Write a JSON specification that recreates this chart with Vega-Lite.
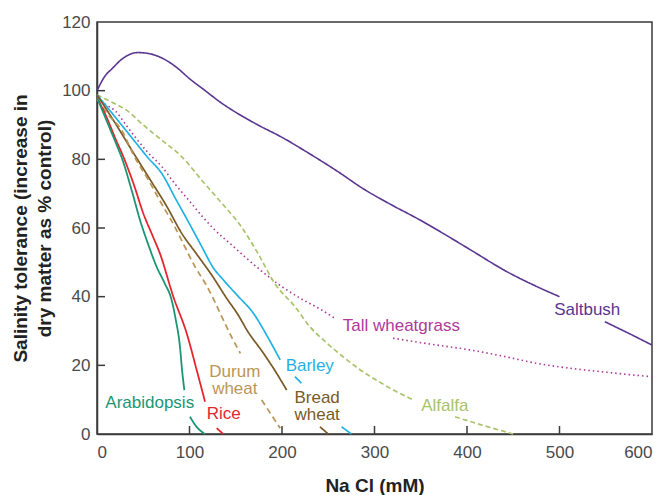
{
  "$schema": "https://vega.github.io/schema/vega-lite/v6.json",
  "width": 555,
  "height": 412,
  "autosize": {"type": "none"},
  "padding": {"left": 97, "top": 22, "right": 16, "bottom": 61},
  "background": "white",
  "config": {
    "view": {"stroke": "#3a3a3a", "strokeWidth": 1.5},
    "font": "Liberation Sans",
    "axis": {
      "grid": false,
      "ticks": false,
      "domainColor": "#3a3a3a",
      "domainWidth": 1.5,
      "labelFont": "Liberation Sans",
      "labelFontSize": 17,
      "labelColor": "#4a4a4a",
      "titleFont": "Liberation Sans",
      "titleFontSize": 19,
      "titleFontWeight": "bold",
      "titleColor": "#222222"
    }
  },
  "datasets": {
    "curves": [
      {"s":"Saltbush","g":"Saltbush-1","x":0,"y":100},
      {"s":"Saltbush","g":"Saltbush-1","x":8,"y":104},
      {"s":"Saltbush","g":"Saltbush-1","x":17,"y":106.6},
      {"s":"Saltbush","g":"Saltbush-1","x":28,"y":109.4},
      {"s":"Saltbush","g":"Saltbush-1","x":44,"y":111.1},
      {"s":"Saltbush","g":"Saltbush-1","x":58,"y":110.7},
      {"s":"Saltbush","g":"Saltbush-1","x":71,"y":109.4},
      {"s":"Saltbush","g":"Saltbush-1","x":85,"y":107},
      {"s":"Saltbush","g":"Saltbush-1","x":100,"y":103.5},
      {"s":"Saltbush","g":"Saltbush-1","x":117,"y":100},
      {"s":"Saltbush","g":"Saltbush-1","x":133,"y":96.7},
      {"s":"Saltbush","g":"Saltbush-1","x":150,"y":93.7},
      {"s":"Saltbush","g":"Saltbush-1","x":172,"y":90.3},
      {"s":"Saltbush","g":"Saltbush-1","x":200,"y":86.4},
      {"s":"Saltbush","g":"Saltbush-1","x":230,"y":81.6},
      {"s":"Saltbush","g":"Saltbush-1","x":260,"y":76.5},
      {"s":"Saltbush","g":"Saltbush-1","x":288,"y":71.4},
      {"s":"Saltbush","g":"Saltbush-1","x":320,"y":66.5},
      {"s":"Saltbush","g":"Saltbush-1","x":346,"y":62.8},
      {"s":"Saltbush","g":"Saltbush-1","x":375,"y":58.3},
      {"s":"Saltbush","g":"Saltbush-1","x":404,"y":53.6},
      {"s":"Saltbush","g":"Saltbush-1","x":443,"y":47.3},
      {"s":"Saltbush","g":"Saltbush-1","x":475,"y":43},
      {"s":"Saltbush","g":"Saltbush-1","x":500,"y":40},
      {"s":"Saltbush","g":"Saltbush-2","x":549,"y":32.7},
      {"s":"Saltbush","g":"Saltbush-2","x":575,"y":29.3},
      {"s":"Saltbush","g":"Saltbush-2","x":600,"y":25.9},

      {"s":"Tall wheatgrass","g":"Tall-1","x":0,"y":97.5},
      {"s":"Tall wheatgrass","g":"Tall-1","x":10,"y":95.8},
      {"s":"Tall wheatgrass","g":"Tall-1","x":19.5,"y":94.2},
      {"s":"Tall wheatgrass","g":"Tall-1","x":30,"y":90.5},
      {"s":"Tall wheatgrass","g":"Tall-1","x":41,"y":86.6},
      {"s":"Tall wheatgrass","g":"Tall-1","x":55,"y":82},
      {"s":"Tall wheatgrass","g":"Tall-1","x":70,"y":77.9},
      {"s":"Tall wheatgrass","g":"Tall-1","x":85,"y":72.6},
      {"s":"Tall wheatgrass","g":"Tall-1","x":102,"y":67.2},
      {"s":"Tall wheatgrass","g":"Tall-1","x":115,"y":63},
      {"s":"Tall wheatgrass","g":"Tall-1","x":127.5,"y":59.4},
      {"s":"Tall wheatgrass","g":"Tall-1","x":145,"y":55.2},
      {"s":"Tall wheatgrass","g":"Tall-1","x":160,"y":51.6},
      {"s":"Tall wheatgrass","g":"Tall-1","x":180,"y":47},
      {"s":"Tall wheatgrass","g":"Tall-1","x":200,"y":42.9},
      {"s":"Tall wheatgrass","g":"Tall-1","x":220,"y":39.5},
      {"s":"Tall wheatgrass","g":"Tall-1","x":243,"y":36.1},
      {"s":"Tall wheatgrass","g":"Tall-1","x":257,"y":33.7},
      {"s":"Tall wheatgrass","g":"Tall-2","x":320,"y":27.9},
      {"s":"Tall wheatgrass","g":"Tall-2","x":360,"y":26.2},
      {"s":"Tall wheatgrass","g":"Tall-2","x":403,"y":24.5},
      {"s":"Tall wheatgrass","g":"Tall-2","x":440,"y":22.6},
      {"s":"Tall wheatgrass","g":"Tall-2","x":475,"y":20.6},
      {"s":"Tall wheatgrass","g":"Tall-2","x":510,"y":19.2},
      {"s":"Tall wheatgrass","g":"Tall-2","x":547,"y":18.1},
      {"s":"Tall wheatgrass","g":"Tall-2","x":575,"y":17.3},
      {"s":"Tall wheatgrass","g":"Tall-2","x":600,"y":16.7},

      {"s":"Alfalfa","g":"Alfalfa-1","x":0,"y":98.8},
      {"s":"Alfalfa","g":"Alfalfa-1","x":15,"y":96.8},
      {"s":"Alfalfa","g":"Alfalfa-1","x":34,"y":93.9},
      {"s":"Alfalfa","g":"Alfalfa-1","x":50,"y":90},
      {"s":"Alfalfa","g":"Alfalfa-1","x":70,"y":85.6},
      {"s":"Alfalfa","g":"Alfalfa-1","x":91.5,"y":80.8},
      {"s":"Alfalfa","g":"Alfalfa-1","x":113,"y":74},
      {"s":"Alfalfa","g":"Alfalfa-1","x":135,"y":67.2},
      {"s":"Alfalfa","g":"Alfalfa-1","x":156,"y":60.4},
      {"s":"Alfalfa","g":"Alfalfa-1","x":174,"y":52.6},
      {"s":"Alfalfa","g":"Alfalfa-1","x":192,"y":43.9},
      {"s":"Alfalfa","g":"Alfalfa-1","x":214,"y":37.1},
      {"s":"Alfalfa","g":"Alfalfa-1","x":230,"y":31.3},
      {"s":"Alfalfa","g":"Alfalfa-1","x":248,"y":26.6},
      {"s":"Alfalfa","g":"Alfalfa-1","x":266,"y":22.5},
      {"s":"Alfalfa","g":"Alfalfa-1","x":284,"y":18.8},
      {"s":"Alfalfa","g":"Alfalfa-1","x":302,"y":15.7},
      {"s":"Alfalfa","g":"Alfalfa-1","x":322,"y":12.6},
      {"s":"Alfalfa","g":"Alfalfa-1","x":342,"y":9.9},
      {"s":"Alfalfa","g":"Alfalfa-2","x":387,"y":5},
      {"s":"Alfalfa","g":"Alfalfa-2","x":420,"y":2.3},
      {"s":"Alfalfa","g":"Alfalfa-2","x":450,"y":0},

      {"s":"Barley","g":"Barley-1","x":0,"y":98.8},
      {"s":"Barley","g":"Barley-1","x":20,"y":92.2},
      {"s":"Barley","g":"Barley-1","x":40,"y":85.5},
      {"s":"Barley","g":"Barley-1","x":55,"y":80.5},
      {"s":"Barley","g":"Barley-1","x":70,"y":75.9},
      {"s":"Barley","g":"Barley-1","x":85,"y":68.5},
      {"s":"Barley","g":"Barley-1","x":100,"y":61.2},
      {"s":"Barley","g":"Barley-1","x":113,"y":54.7},
      {"s":"Barley","g":"Barley-1","x":126,"y":48.3},
      {"s":"Barley","g":"Barley-1","x":136.5,"y":44.9},
      {"s":"Barley","g":"Barley-1","x":153,"y":40},
      {"s":"Barley","g":"Barley-1","x":169,"y":35.2},
      {"s":"Barley","g":"Barley-1","x":184,"y":28.5},
      {"s":"Barley","g":"Barley-1","x":198,"y":21.6},
      {"s":"Barley","g":"Barley-2","x":214,"y":16.7},
      {"s":"Barley","g":"Barley-2","x":221,"y":14.8},
      {"s":"Barley","g":"Barley-3","x":264.5,"y":2.1},
      {"s":"Barley","g":"Barley-3","x":275,"y":0},

      {"s":"Bread wheat","g":"Bread-1","x":0,"y":98.8},
      {"s":"Bread wheat","g":"Bread-1","x":20,"y":90.4},
      {"s":"Bread wheat","g":"Bread-1","x":40,"y":81.6},
      {"s":"Bread wheat","g":"Bread-1","x":60,"y":73},
      {"s":"Bread wheat","g":"Bread-1","x":75,"y":66.5},
      {"s":"Bread wheat","g":"Bread-1","x":91.5,"y":58.5},
      {"s":"Bread wheat","g":"Bread-1","x":108,"y":52.3},
      {"s":"Bread wheat","g":"Bread-1","x":124,"y":46.3},
      {"s":"Bread wheat","g":"Bread-1","x":140,"y":39.6},
      {"s":"Bread wheat","g":"Bread-1","x":153,"y":34.5},
      {"s":"Bread wheat","g":"Bread-1","x":162,"y":30.3},
      {"s":"Bread wheat","g":"Bread-1","x":180,"y":23.5},
      {"s":"Bread wheat","g":"Bread-1","x":193,"y":18.2},
      {"s":"Bread wheat","g":"Bread-1","x":205,"y":12.8},
      {"s":"Bread wheat","g":"Bread-2","x":241,"y":2.1},
      {"s":"Bread wheat","g":"Bread-2","x":250,"y":0},

      {"s":"Durum wheat","g":"Durum-1","x":0,"y":97.5},
      {"s":"Durum wheat","g":"Durum-1","x":12,"y":93},
      {"s":"Durum wheat","g":"Durum-1","x":26.7,"y":88.5},
      {"s":"Durum wheat","g":"Durum-1","x":40,"y":81},
      {"s":"Durum wheat","g":"Durum-1","x":55.5,"y":74},
      {"s":"Durum wheat","g":"Durum-1","x":70,"y":67},
      {"s":"Durum wheat","g":"Durum-1","x":84,"y":60.4},
      {"s":"Durum wheat","g":"Durum-1","x":95,"y":54.5},
      {"s":"Durum wheat","g":"Durum-1","x":106,"y":48.7},
      {"s":"Durum wheat","g":"Durum-1","x":117,"y":43.9},
      {"s":"Durum wheat","g":"Durum-1","x":126,"y":39.3},
      {"s":"Durum wheat","g":"Durum-1","x":136,"y":33.5},
      {"s":"Durum wheat","g":"Durum-1","x":146,"y":28},
      {"s":"Durum wheat","g":"Durum-1","x":155,"y":23.5},
      {"s":"Durum wheat","g":"Durum-2","x":178,"y":9.9},
      {"s":"Durum wheat","g":"Durum-2","x":188,"y":5.8},
      {"s":"Durum wheat","g":"Durum-2","x":198,"y":1.7},

      {"s":"Rice","g":"Rice-1","x":0,"y":98},
      {"s":"Rice","g":"Rice-1","x":10,"y":92.5},
      {"s":"Rice","g":"Rice-1","x":20,"y":86},
      {"s":"Rice","g":"Rice-1","x":28.4,"y":80.8},
      {"s":"Rice","g":"Rice-1","x":40,"y":72.5},
      {"s":"Rice","g":"Rice-1","x":50,"y":64.3},
      {"s":"Rice","g":"Rice-1","x":60,"y":57.8},
      {"s":"Rice","g":"Rice-1","x":68,"y":52.6},
      {"s":"Rice","g":"Rice-1","x":82.5,"y":40},
      {"s":"Rice","g":"Rice-1","x":97,"y":29.3},
      {"s":"Rice","g":"Rice-1","x":107.8,"y":18.6},
      {"s":"Rice","g":"Rice-1","x":116.8,"y":9.4},
      {"s":"Rice","g":"Rice-2","x":129.4,"y":1.7},
      {"s":"Rice","g":"Rice-2","x":136.5,"y":0},

      {"s":"Arabidopsis","g":"Arab-1","x":0,"y":98},
      {"s":"Arabidopsis","g":"Arab-1","x":10,"y":91.5},
      {"s":"Arabidopsis","g":"Arab-1","x":20,"y":85},
      {"s":"Arabidopsis","g":"Arab-1","x":28,"y":79.5},
      {"s":"Arabidopsis","g":"Arab-1","x":38,"y":70.5},
      {"s":"Arabidopsis","g":"Arab-1","x":46.5,"y":62.3},
      {"s":"Arabidopsis","g":"Arab-1","x":55,"y":55.5},
      {"s":"Arabidopsis","g":"Arab-1","x":64.5,"y":48.7},
      {"s":"Arabidopsis","g":"Arab-1","x":73,"y":44},
      {"s":"Arabidopsis","g":"Arab-1","x":80.7,"y":39},
      {"s":"Arabidopsis","g":"Arab-1","x":85,"y":33.5},
      {"s":"Arabidopsis","g":"Arab-1","x":89.7,"y":25.4},
      {"s":"Arabidopsis","g":"Arab-1","x":92,"y":18.5},
      {"s":"Arabidopsis","g":"Arab-1","x":94.4,"y":12.8},
      {"s":"Arabidopsis","g":"Arab-2","x":100.5,"y":5},
      {"s":"Arabidopsis","g":"Arab-2","x":108,"y":2},
      {"s":"Arabidopsis","g":"Arab-2","x":116.7,"y":0}
    ],
    "labels": [
      {"s":"Saltbush","t":"Saltbush","x":530,"y":36.1},
      {"s":"Tall wheatgrass","t":"Tall wheatgrass","x":329,"y":31.5},
      {"s":"Alfalfa","t":"Alfalfa","x":376,"y":8.3},
      {"s":"Barley","t":"Barley","x":230,"y":19.8},
      {"s":"Bread wheat","t":"Bread","x":238,"y":10.6},
      {"s":"Bread wheat","t":"wheat","x":238,"y":5.5},
      {"s":"Durum wheat","t":"Durum","x":149,"y":18.1},
      {"s":"Durum wheat","t":"wheat","x":149,"y":13.1},
      {"s":"Rice","t":"Rice","x":137,"y":5.8},
      {"s":"Arabidopsis","t":"Arabidopsis","x":57,"y":9}
    ],
    "xticks": [{"v":100},{"v":200},{"v":300},{"v":400},{"v":500}],
    "yticks": [{"v":20},{"v":40},{"v":60},{"v":80},{"v":100}]
  },
  "layer": [
    {
      "data": {"name": "curves"},
      "mark": {"type": "line", "interpolate": "monotone"},
      "encoding": {
        "x": {"field": "x", "type": "quantitative",
              "scale": {"domain": [0, 600], "nice": false},
              "axis": {"values": [0,100,200,300,400,500,600], "labelPadding": 10, "title": "Na Cl (mM)", "titleY": 51, "titleBaseline": "middle"}},
        "y": {"field": "y", "type": "quantitative",
              "scale": {"domain": [0, 120], "nice": false},
              "axis": {"values": [0,20,40,60,80,100,120], "labelPadding": 7,
                       "title": ["Salinity tolerance (increase in", "dry matter as % control)"],
                       "titleX": -77, "titleY": 206, "titleAngle": -90, "titleAlign": "center", "titleBaseline": "middle", "titleLineHeight": 24}},
        "color": {"field": "s", "type": "nominal", "legend": null,
                  "scale": {"domain": ["Saltbush","Tall wheatgrass","Alfalfa","Barley","Bread wheat","Durum wheat","Rice","Arabidopsis"],
                            "range": ["#5b3590","#b0399a","#a8c36a","#1fb1e6","#7a5a26","#bc9556","#e5252e","#1b9673"]}},
        "strokeDash": {"field": "s", "type": "nominal", "legend": null,
                  "scale": {"domain": ["Saltbush","Tall wheatgrass","Alfalfa","Barley","Bread wheat","Durum wheat","Rice","Arabidopsis"],
                            "range": [[1,0],[1.5,3],[5,3],[1,0],[1,0],[6,4],[1,0],[1,0]]}},
        "strokeWidth": {"field": "s", "type": "nominal", "legend": null,
                  "scale": {"domain": ["Saltbush","Tall wheatgrass","Alfalfa","Barley","Bread wheat","Durum wheat","Rice","Arabidopsis"],
                            "range": [1.6,1.8,1.5,1.6,1.6,2,1.6,1.6]}},
        "detail": {"field": "g", "type": "nominal"}
      }
    },
    {
      "data": {"name": "labels"},
      "mark": {"type": "text", "align": "center", "baseline": "middle", "fontSize": 17, "font": "Liberation Sans"},
      "encoding": {
        "x": {"field": "x", "type": "quantitative"},
        "y": {"field": "y", "type": "quantitative"},
        "text": {"field": "t"},
        "color": {"field": "s", "type": "nominal", "legend": null}
      }
    },
    {
      "data": {"name": "xticks"},
      "mark": {"type": "rule", "color": "#3a3a3a", "strokeWidth": 1.5, "y2Offset": -8},
      "encoding": {
        "x": {"field": "v", "type": "quantitative"},
        "y": {"datum": 0},
        "y2": {"datum": 0}
      }
    },
    {
      "data": {"name": "yticks"},
      "mark": {"type": "rule", "color": "#3a3a3a", "strokeWidth": 1.5, "x2Offset": 8},
      "encoding": {
        "y": {"field": "v", "type": "quantitative"},
        "x": {"datum": 0},
        "x2": {"datum": 0}
      }
    }
  ]
}
